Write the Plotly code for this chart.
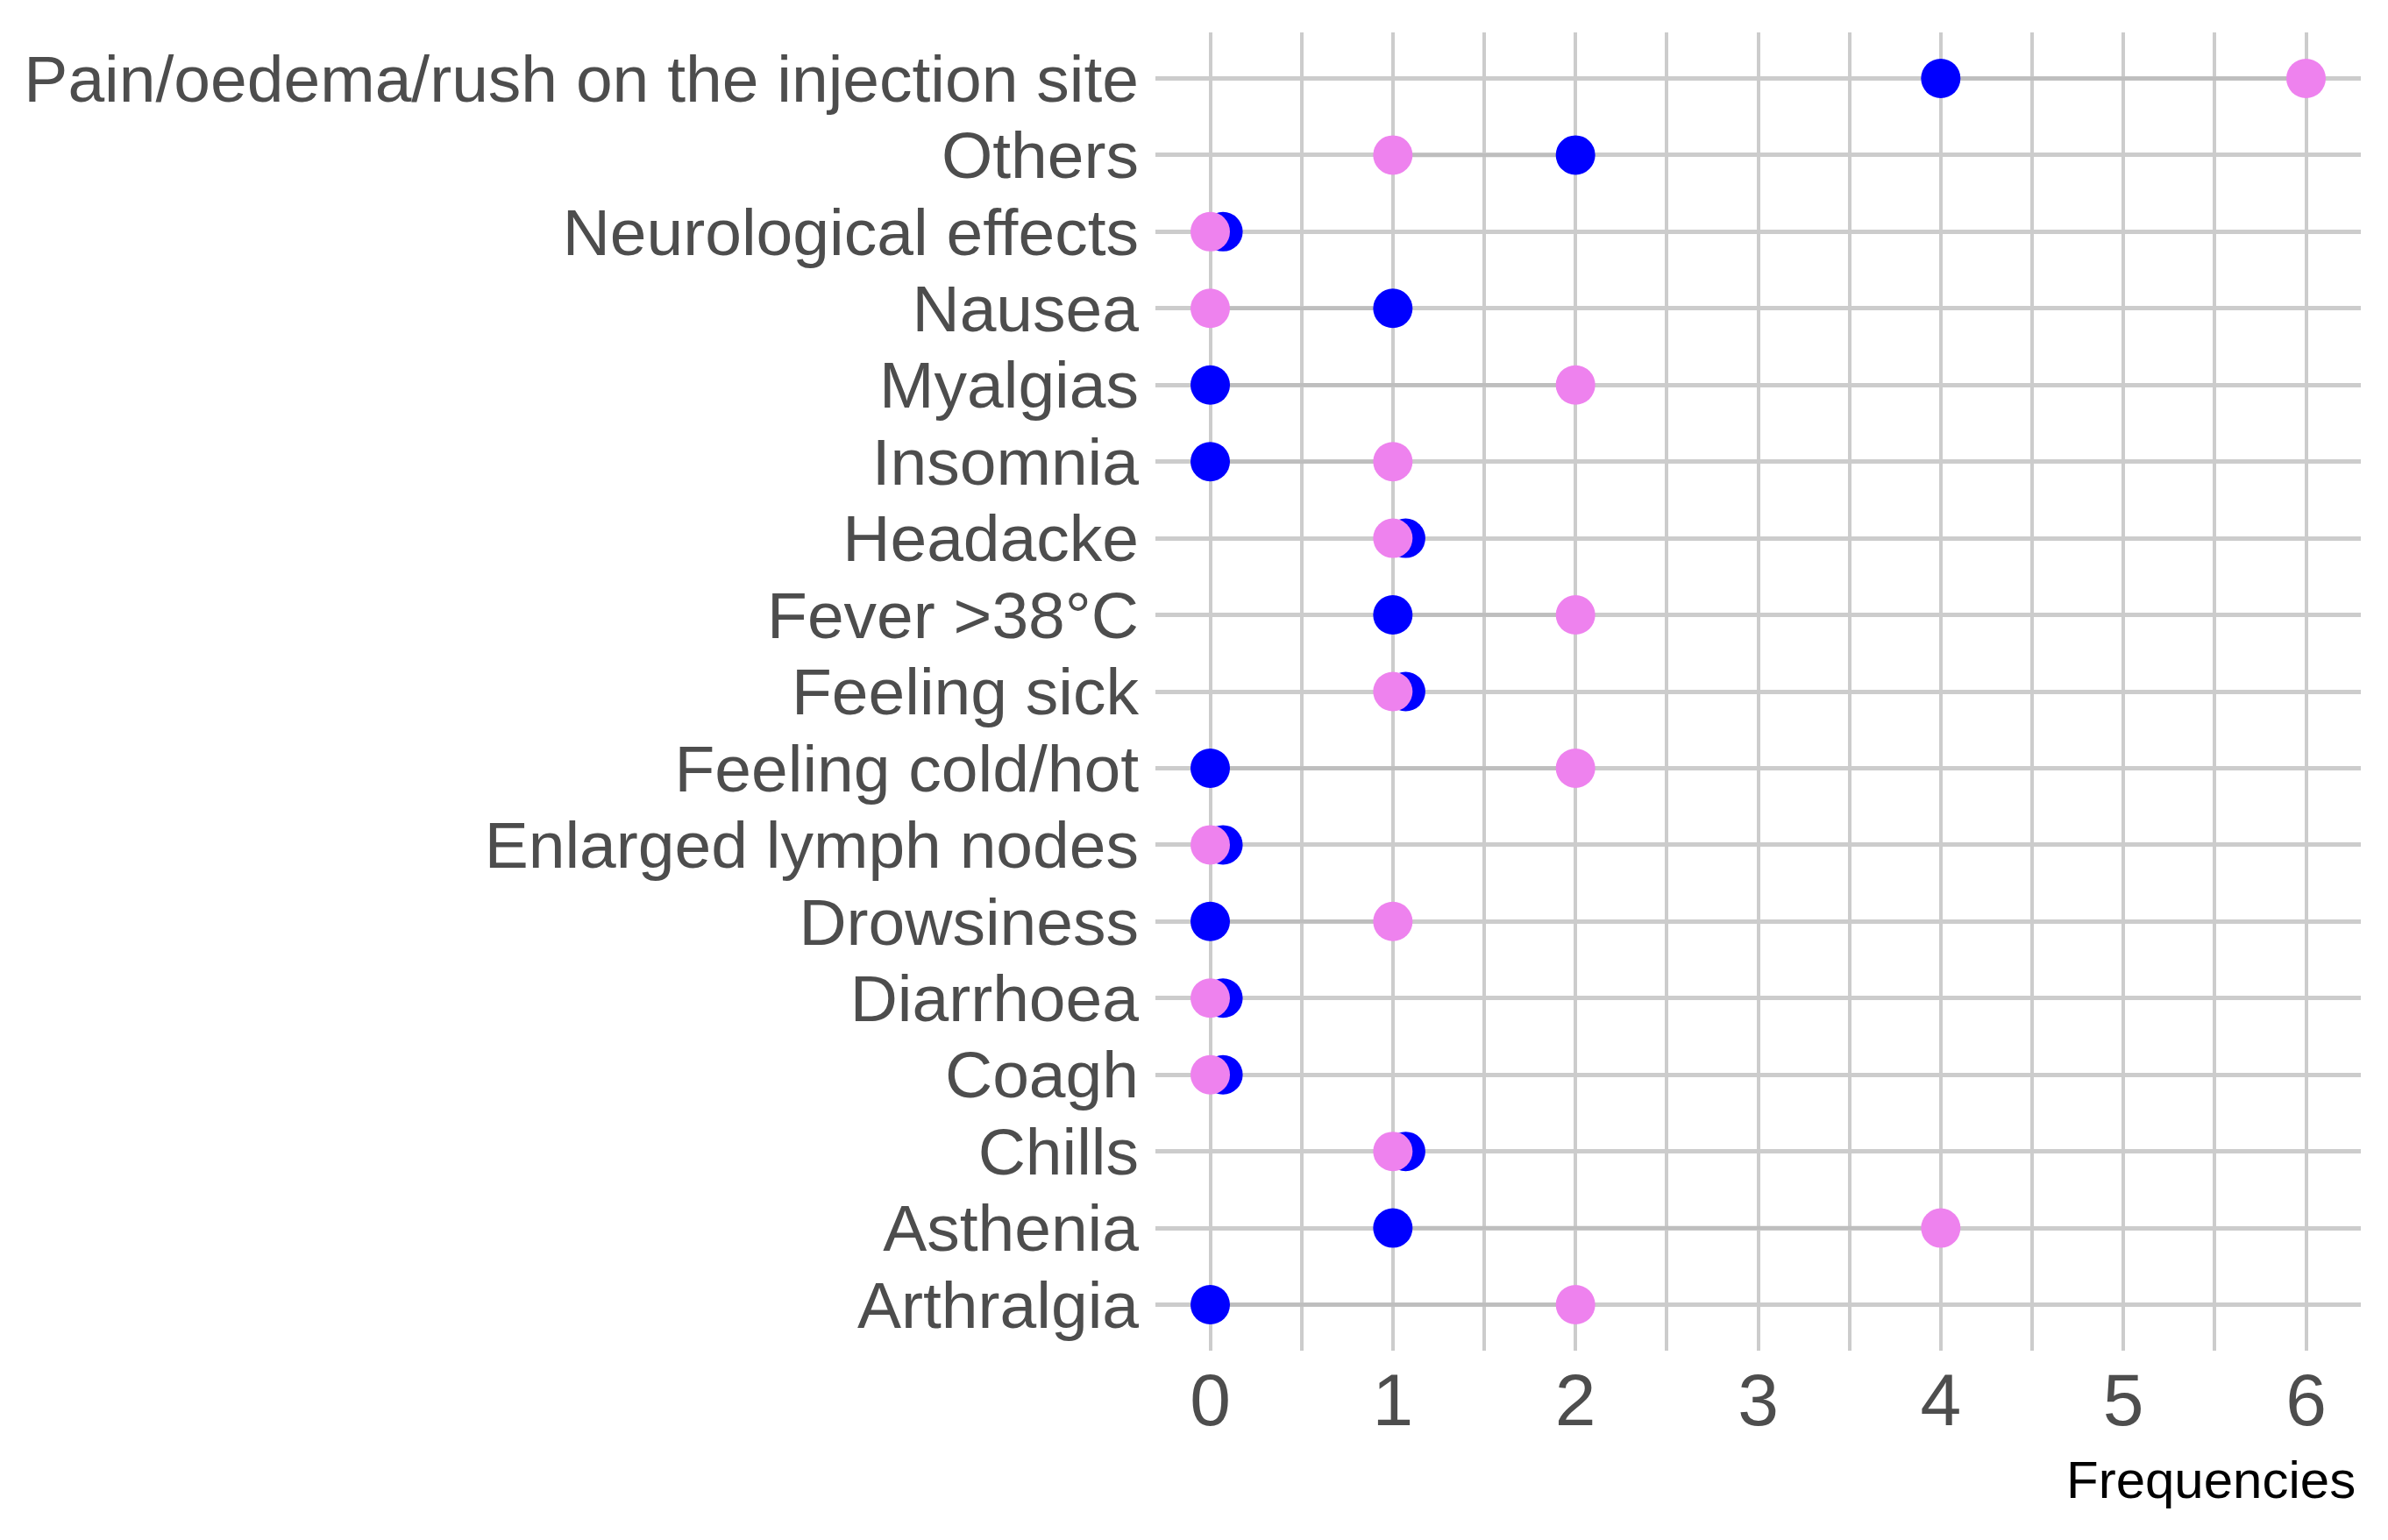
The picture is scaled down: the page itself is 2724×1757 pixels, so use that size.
import plotly.graph_objects as go

categories = [
    "Pain/oedema/rush on the injection site", "Others", "Neurological effects",
    "Nausea", "Myalgias", "Insomnia", "Headacke", "Fever >38°C", "Feeling sick",
    "Feeling cold/hot", "Enlarged lymph nodes", "Drowsiness", "Diarrhoea",
    "Coagh", "Chills", "Asthenia", "Arthralgia",
]
blue_values = [4, 2, 0.07, 1, 0, 0, 1.07, 1, 1.07, 0, 0.07, 0, 0.07, 0.07, 1.07, 1, 0]
pink_values = [6, 1, 0, 0, 2, 1, 1, 2, 1, 2, 0, 1, 0, 0, 1, 4, 2]
x_ticks = [0, 1, 2, 3, 4, 5, 6]
x_title = "Frequencies"

seg_x, seg_y = [], []
for c, b, p in zip(categories, blue_values, pink_values):
    seg_x += [min(b, p), max(b, p), None]
    seg_y += [c, c, None]

fig = go.Figure()
fig.add_trace(go.Scatter(x=seg_x, y=seg_y, mode="lines",
                         line=dict(color="#BEBEBE", width=4.5),
                         hoverinfo="skip", showlegend=False))
fig.add_trace(go.Scatter(x=blue_values, y=categories, mode="markers",
                         marker=dict(color="#0000FF", size=45, line=dict(width=0)),
                         showlegend=False))
fig.add_trace(go.Scatter(x=pink_values, y=categories, mode="markers",
                         marker=dict(color="#EE82EE", size=45, line=dict(width=0)),
                         showlegend=False))

fig.update_layout(
    width=2724, height=1757,
    margin=dict(l=1310, r=39, t=29, b=224),
    plot_bgcolor="white", paper_bgcolor="white",
    font=dict(family="Liberation Sans, Arial, sans-serif", color="#4D4D4D"),
    xaxis=dict(
        range=[-0.3, 6.3], tickvals=x_ticks, ticktext=[str(t) for t in x_ticks],
        showgrid=True, gridcolor="#CCCCCC", gridwidth=3.5, zeroline=False,
        showline=False, ticks="", tickfont=dict(size=84, color="#4D4D4D"),
        ticklabelstandoff=0,
        minor=dict(dtick=0.5, tick0=0, showgrid=True, gridcolor="#CCCCCC",
                   gridwidth=3.5, ticks=""),
    ),
    yaxis=dict(
        type="category", categoryorder="array", categoryarray=categories,
        tickmode="array", tickvals=categories, ticktext=categories,
        range=[16.6, -0.6], showgrid=True, gridcolor="#CCCCCC", gridwidth=4.5,
        zeroline=False, showline=False, ticks="",
        tickfont=dict(size=75, color="#4D4D4D"), ticklabelstandoff=18,
    ),
    annotations=[dict(text=x_title, xref="paper", yref="paper", x=1.0, y=-0.098,
                      xanchor="right", yanchor="middle", showarrow=False,
                      xshift=-4, font=dict(size=60, color="black"))],
)

fig.write_html("out.html")
